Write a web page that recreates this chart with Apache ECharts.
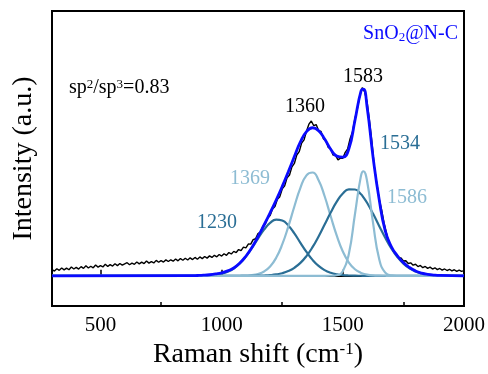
<!DOCTYPE html>
<html>
<head>
<meta charset="utf-8">
<script src="https://cdn.jsdelivr.net/npm/echarts@6/dist/echarts.min.js"></script>
<style>
  html, body { margin: 0; padding: 0; background: #fff; }
  #chart { width: 488px; height: 374px; }
</style>
</head>
<body>
<div id="chart"></div>
<script>
// raw spectrum, sampled every 10 cm-1 from 300 to 2000
const rawStart = 300;
const rawStep = 10;
const rawY = [
  6.5, 4.8, 7.2, 5.6, 8.0, 6.1, 7.9, 6.2, 9.0, 7.0,
  8.6, 6.9, 9.4, 7.6, 10.2, 8.0, 9.8, 8.2, 11.0, 8.9,
  10.5, 9.1, 11.8, 9.6, 11.4, 10.0, 12.3, 10.4, 12.6, 10.9,
  12.2, 13.4, 11.3, 13.0, 11.8, 14.1, 12.2, 14.0, 12.5, 15.2,
  13.0, 14.6, 13.2, 15.8, 13.9, 15.6, 14.1, 16.3, 14.6, 16.4,
  15.0, 17.2, 15.3, 17.6, 15.9, 18.0, 16.2, 18.4, 16.6, 18.8,
  17.0, 19.3, 17.6, 19.8, 18.1, 20.4, 18.8, 21.0, 19.4, 21.8,
  20.2, 22.6, 21.0, 23.8, 22.3, 25.0, 23.8, 26.9, 25.7, 29.3,
  28.6, 32.5, 32.4, 37.0, 37.9, 43.3, 44.8, 50.8, 52.9, 59.2,
  61.6, 68.4, 70.9, 78.3, 81.0, 88.9, 92.1, 100.2, 103.1, 111.5,
  115.0, 123.6, 127.0, 135.8, 139.1, 147.9, 155.2, 158.4, 153.6, 154.8,
  148.6, 147.7, 140.2, 138.6, 131.3, 129.8, 123.5, 123.3, 118.6, 120.4,
  120.2, 126.4, 130.0, 140.3, 147.4, 161.2, 170.8, 184.5, 192.6, 188.1,
  178.3, 158.7, 137.2, 111.6, 95.0, 78.6, 67.8, 54.1, 43.9, 34.0,
  29.8, 24.1, 22.8, 18.6, 18.3, 15.2, 15.4, 12.6, 13.3, 10.9,
  11.8, 9.5, 10.6, 8.3, 9.6, 7.6, 8.9, 6.9, 8.2, 6.3,
  7.5, 5.8, 7.0, 5.4, 6.7, 5.0, 6.2, 4.6, 5.9, 4.5,
  5.3
];

// fitted curves
const fitX = [300, 875, 900, 925, 950, 975, 1000, 1025, 1050, 1075,
  1100, 1125, 1150, 1175, 1200, 1225, 1250, 1275, 1300, 1325,
  1350, 1375, 1400, 1425, 1450, 1475, 1500, 1525, 1550, 1575,
  1585, 1600, 1625, 1650, 1675, 1700, 1725, 1750, 1775, 1800,
  1825, 1850, 1875, 1900, 2000];
const peak1230 = [0, 0.02, 0.06, 0.17, 0.43, 0.98, 2.08, 4.1, 7.47, 12.6,
  19.7, 28.5, 38.1, 47.2, 54.2, 57.5, 56.6, 51.5, 43.4, 33.8,
  24.4, 16.3, 10.1, 5.79, 3.07, 1.51, 0.68, 0.29, 0.11, 0.04,
  0.02, 0.01, 0, 0, 0, 0, 0, 0, 0, 0,
  0, 0, 0, 0, 0];
const peak1369 = [0, 0, 0, 0, 0, 0, 0, 0, 0.02, 0.07,
  0.24, 0.7, 1.86, 4.43, 9.53, 18.4, 32.1, 50.3, 70.9, 90.0,
  102.8, 105.7, 97.8, 81.4, 60.9, 41.1, 24.9, 13.6, 6.69, 2.96,
  2.07, 1.18, 0.42, 0.14, 0.04, 0, 0, 0, 0, 0,
  0, 0, 0, 0, 0];
const peak1534 = [0, 0, 0, 0, 0, 0, 0, 0, 0, 0.01,
  0.03, 0.06, 0.15, 0.33, 0.7, 1.41, 2.67, 4.8, 8.17, 13.2,
  20.2, 29.3, 40.3, 52.5, 64.8, 75.9, 84.2, 88.5, 88.3, 83.4,
  80.3, 74.7, 63.4, 51.0, 38.9, 28.1, 19.3, 12.5, 7.69, 4.48,
  2.48, 1.3, 0.65, 0.3, 0];
const peak1586 = [0, 0, 0, 0, 0, 0, 0, 0, 0, 0,
  0, 0, 0, 0, 0, 0, 0, 0, 0, 0,
  0, 0, 0, 0, 0.04, 0.57, 4.7, 22.6, 63.0, 102.5,
  107, 97.1, 53.6, 17.2, 3.22, 0.35, 0.02, 0, 0, 0,
  0, 0, 0, 0, 0];
const envelope = [0, 0.1, 0.3, 0.6, 1.1, 1.9, 3.0, 5.0, 8.0, 13.0,
  20.0, 29.0, 40.0, 52.0, 64.5, 77.5, 91.5, 106.5, 122, 137,
  147.5, 151.5, 148.5, 140, 129.5, 122.5, 121.5, 130, 159, 189,
  191, 173, 121, 78, 46, 30, 20.5, 13.5, 8.5, 5,
  2.8, 1.5, 0.8, 0.4, 0];

const majorTicks = [500, 1000, 1500, 2000];
const minorTicks = [750, 1250, 1750];

const serif = 'Liberation Serif';
const dark = '#2a6e95';
const light = '#8dbcd3';
const blue = '#0a0aff';

const pairs = (xs, ys) => ys.map((y, i) => [xs[i], y]);
const rawData = rawY.map((y, i) => [rawStart + i * rawStep, y]);

const chart = echarts.init(document.getElementById('chart'));

const fitLine = (data, color, width, z) => ({
  type: 'line',
  data: data,
  smooth: true,
  symbol: 'none',
  z: z,
  lineStyle: { color: color, width: width },
});

const option = {
  animation: false,
  grid: {
    left: 52,
    right: 24,
    top: 11,
    bottom: 61,
    show: true,
    borderColor: '#000',
    borderWidth: 2,
    backgroundColor: 'transparent',
  },
  xAxis: [
    {
      type: 'value',
      min: 300,
      max: 2000,
      name: '{a|Raman shift (cm}{s|-1}{a|)}',
      nameLocation: 'middle',
      nameGap: 31,
      nameTextStyle: {
        rich: {
          a: { fontFamily: serif, fontSize: 28, color: '#000' },
          s: { fontFamily: serif, fontSize: 17, color: '#000', verticalAlign: 'top' },
        },
      },
      axisLine: { show: true, lineStyle: { color: '#000', width: 2 } },
      axisTick: {
        show: true,
        inside: true,
        length: 6,
        lineStyle: { color: '#000', width: 1.5 },
        customValues: majorTicks,
      },
      axisLabel: {
        customValues: majorTicks,
        formatter: v => String(v),
        fontFamily: serif,
        fontSize: 21,
        color: '#000',
        margin: 9,
      },
      splitLine: { show: false },
    },
    {
      type: 'value',
      min: 300,
      max: 2000,
      position: 'bottom',
      axisLine: { show: false },
      axisTick: {
        show: true,
        inside: true,
        length: 4,
        lineStyle: { color: '#000', width: 1.5 },
        customValues: minorTicks,
      },
      axisLabel: { show: false },
      splitLine: { show: false },
    },
  ],
  yAxis: {
    type: 'value',
    min: -31,
    max: 271,
    name: 'Intensity (a.u.)',
    nameLocation: 'middle',
    nameGap: 14,
    nameTextStyle: { fontFamily: serif, fontSize: 28, color: '#000' },
    axisLine: { show: true, lineStyle: { color: '#000', width: 2 } },
    axisTick: { show: false },
    axisLabel: { show: false },
    splitLine: { show: false },
  },
  series: [
    {
      type: 'line',
      data: rawData,
      symbol: 'none',
      z: 1,
      lineStyle: { color: '#000', width: 1.4 },
    },
    fitLine(pairs(fitX, peak1230), dark, 2.2, 2),
    fitLine(pairs(fitX, peak1369), light, 2.2, 2),
    fitLine(pairs(fitX, peak1534), dark, 2.2, 2),
    fitLine(pairs(fitX, peak1586), light, 2.2, 2),
    fitLine(pairs(fitX, envelope), blue, 2.8, 3),
  ],
  graphic: [
    {
      type: 'text', x: 458, y: 34, z: 10,
      style: {
        text: '{a|SnO}{b|2}{a|@N-C}',
        align: 'right', verticalAlign: 'middle',
        rich: {
          a: { fontFamily: serif, fontSize: 20, fill: blue },
          b: { fontFamily: serif, fontSize: 13, fill: blue, verticalAlign: 'bottom' },
        },
      },
    },
    {
      type: 'text', x: 69, y: 88, z: 10,
      style: {
        text: '{a|sp}{s|2}{a|/sp}{s|3}{a|=0.83}',
        align: 'left', verticalAlign: 'middle',
        rich: {
          a: { fontFamily: serif, fontSize: 20, fill: '#000' },
          s: { fontFamily: serif, fontSize: 13, fill: '#000', verticalAlign: 'top' },
        },
      },
    },
    { type: 'text', x: 363, y: 77, z: 10, style: { text: '1583', font: '20px "Liberation Serif"', fill: '#000', align: 'center', verticalAlign: 'middle' } },
    { type: 'text', x: 305, y: 107, z: 10, style: { text: '1360', font: '20px "Liberation Serif"', fill: '#000', align: 'center', verticalAlign: 'middle' } },
    { type: 'text', x: 400, y: 144, z: 10, style: { text: '1534', font: '20px "Liberation Serif"', fill: dark, align: 'center', verticalAlign: 'middle' } },
    { type: 'text', x: 250, y: 179, z: 10, style: { text: '1369', font: '20px "Liberation Serif"', fill: light, align: 'center', verticalAlign: 'middle' } },
    { type: 'text', x: 407, y: 198, z: 10, style: { text: '1586', font: '20px "Liberation Serif"', fill: light, align: 'center', verticalAlign: 'middle' } },
    { type: 'text', x: 217, y: 223, z: 10, style: { text: '1230', font: '20px "Liberation Serif"', fill: dark, align: 'center', verticalAlign: 'middle' } },
  ],
};

chart.setOption(option);
</script>
</body>
</html>
